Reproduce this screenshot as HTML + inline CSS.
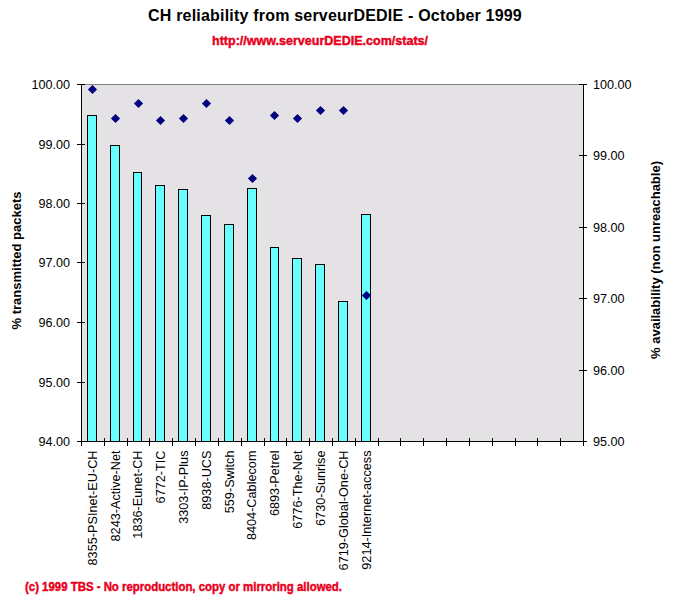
<!DOCTYPE html>
<html><head><meta charset="utf-8"><style>
html,body{margin:0;padding:0;background:#fff;}
body{width:674px;height:596px;position:relative;overflow:hidden;font-family:"Liberation Sans",sans-serif;}
svg{position:absolute;left:0;top:0;}
.n{font-size:12.6px;fill:#000;}
.l{font-size:12.7px;fill:#000;}
.yt{font-size:13px;font-weight:bold;fill:#000;}
.t{font-size:16px;font-weight:bold;fill:#000;letter-spacing:0.2px;}
.s{font-size:13.4px;font-weight:bold;fill:#E8001C;stroke:#E8001C;stroke-width:0.45px;}
.f{font-size:12.5px;font-weight:bold;fill:#E8001C;stroke:#E8001C;stroke-width:0.45px;}
line{shape-rendering:crispEdges;}
rect{shape-rendering:crispEdges;}
</style></head><body>
<svg width="674" height="596" viewBox="0 0 674 596">
<text x="148" y="20.8" class="t">CH reliability from serveurDEDIE - October 1999</text>
<text x="212" y="44.8" class="s" textLength="216" lengthAdjust="spacingAndGlyphs">http://www.serveurDEDIE.com/stats/</text>
<text x="25" y="590.9" class="f" textLength="317" lengthAdjust="spacingAndGlyphs">(c) 1999 TBS - No reproduction, copy or mirroring allowed.</text>
<text transform="translate(21.1,260.5) rotate(-90)" text-anchor="middle" class="yt">% transmitted packets</text>
<text transform="translate(660.2,260) rotate(-90)" text-anchor="middle" class="yt">% availability (non unreachable)</text>
<rect x="82" y="84" width="501" height="357" fill="#E5E2E5"/>
<line x1="81" y1="84.5" x2="583" y2="84.5" stroke="#808080"/>
<rect x="87.5" y="115.5" width="9" height="326" fill="#6AFFFF" stroke="#000"/>
<rect x="110.5" y="145.5" width="9" height="296" fill="#6AFFFF" stroke="#000"/>
<rect x="133.5" y="172.5" width="8" height="269" fill="#6AFFFF" stroke="#000"/>
<rect x="155.5" y="185.5" width="9" height="256" fill="#6AFFFF" stroke="#000"/>
<rect x="178.5" y="189.5" width="9" height="252" fill="#6AFFFF" stroke="#000"/>
<rect x="201.5" y="215.5" width="9" height="226" fill="#6AFFFF" stroke="#000"/>
<rect x="224.5" y="224.5" width="9" height="217" fill="#6AFFFF" stroke="#000"/>
<rect x="247.5" y="188.5" width="9" height="253" fill="#6AFFFF" stroke="#000"/>
<rect x="270.5" y="247.5" width="8" height="194" fill="#6AFFFF" stroke="#000"/>
<rect x="292.5" y="258.5" width="9" height="183" fill="#6AFFFF" stroke="#000"/>
<rect x="315.5" y="264.5" width="9" height="177" fill="#6AFFFF" stroke="#000"/>
<rect x="338.5" y="301.5" width="9" height="140" fill="#6AFFFF" stroke="#000"/>
<rect x="361.5" y="214.5" width="9" height="227" fill="#6AFFFF" stroke="#000"/>
<line x1="81.5" y1="84" x2="81.5" y2="442" stroke="#000"/>
<line x1="583.5" y1="84" x2="583.5" y2="442" stroke="#000"/>
<line x1="81" y1="441.5" x2="584" y2="441.5" stroke="#000"/>
<line x1="77" y1="84.5" x2="85" y2="84.5" stroke="#000"/>
<text x="70" y="89" text-anchor="end" class="n">100.00</text>
<line x1="77" y1="144.5" x2="85" y2="144.5" stroke="#000"/>
<text x="70" y="149" text-anchor="end" class="n">99.00</text>
<line x1="77" y1="203.5" x2="85" y2="203.5" stroke="#000"/>
<text x="70" y="208" text-anchor="end" class="n">98.00</text>
<line x1="77" y1="262.5" x2="85" y2="262.5" stroke="#000"/>
<text x="70" y="267" text-anchor="end" class="n">97.00</text>
<line x1="77" y1="322.5" x2="85" y2="322.5" stroke="#000"/>
<text x="70" y="327" text-anchor="end" class="n">96.00</text>
<line x1="77" y1="382.5" x2="85" y2="382.5" stroke="#000"/>
<text x="70" y="387" text-anchor="end" class="n">95.00</text>
<line x1="77" y1="441.5" x2="85" y2="441.5" stroke="#000"/>
<text x="70" y="446" text-anchor="end" class="n">94.00</text>
<line x1="579" y1="84.5" x2="587" y2="84.5" stroke="#000"/>
<text x="593" y="88.6" class="n">100.00</text>
<line x1="579" y1="155.5" x2="587" y2="155.5" stroke="#000"/>
<text x="593" y="159.6" class="n">99.00</text>
<line x1="579" y1="227.5" x2="587" y2="227.5" stroke="#000"/>
<text x="593" y="231.6" class="n">98.00</text>
<line x1="579" y1="298.5" x2="587" y2="298.5" stroke="#000"/>
<text x="593" y="302.6" class="n">97.00</text>
<line x1="579" y1="370.5" x2="587" y2="370.5" stroke="#000"/>
<text x="593" y="374.6" class="n">96.00</text>
<line x1="579" y1="441.5" x2="587" y2="441.5" stroke="#000"/>
<text x="593" y="445.6" class="n">95.00</text>
<line x1="81.5" y1="441" x2="81.5" y2="446" stroke="#000"/>
<line x1="104.5" y1="438" x2="104.5" y2="446" stroke="#000"/>
<line x1="127.5" y1="438" x2="127.5" y2="446" stroke="#000"/>
<line x1="149.5" y1="438" x2="149.5" y2="446" stroke="#000"/>
<line x1="172.5" y1="438" x2="172.5" y2="446" stroke="#000"/>
<line x1="195.5" y1="438" x2="195.5" y2="446" stroke="#000"/>
<line x1="218.5" y1="438" x2="218.5" y2="446" stroke="#000"/>
<line x1="241.5" y1="438" x2="241.5" y2="446" stroke="#000"/>
<line x1="264.5" y1="438" x2="264.5" y2="446" stroke="#000"/>
<line x1="286.5" y1="438" x2="286.5" y2="446" stroke="#000"/>
<line x1="309.5" y1="438" x2="309.5" y2="446" stroke="#000"/>
<line x1="332.5" y1="438" x2="332.5" y2="446" stroke="#000"/>
<line x1="355.5" y1="438" x2="355.5" y2="446" stroke="#000"/>
<line x1="378.5" y1="438" x2="378.5" y2="446" stroke="#000"/>
<line x1="400.5" y1="438" x2="400.5" y2="446" stroke="#000"/>
<line x1="423.5" y1="438" x2="423.5" y2="446" stroke="#000"/>
<line x1="446.5" y1="438" x2="446.5" y2="446" stroke="#000"/>
<line x1="469.5" y1="438" x2="469.5" y2="446" stroke="#000"/>
<line x1="492.5" y1="438" x2="492.5" y2="446" stroke="#000"/>
<line x1="515.5" y1="438" x2="515.5" y2="446" stroke="#000"/>
<line x1="537.5" y1="438" x2="537.5" y2="446" stroke="#000"/>
<line x1="560.5" y1="438" x2="560.5" y2="446" stroke="#000"/>
<line x1="583.5" y1="441" x2="583.5" y2="446" stroke="#000"/>
<path d="M87.9 89.5L92.5 84.9L97.1 89.5L92.5 94.1Z" fill="#000080"/>
<path d="M110.9 118.5L115.5 113.9L120.1 118.5L115.5 123.1Z" fill="#000080"/>
<path d="M133.9 103.5L138.5 98.9L143.1 103.5L138.5 108.1Z" fill="#000080"/>
<path d="M155.9 120.5L160.5 115.9L165.1 120.5L160.5 125.1Z" fill="#000080"/>
<path d="M178.9 118.5L183.5 113.9L188.1 118.5L183.5 123.1Z" fill="#000080"/>
<path d="M201.9 103.5L206.5 98.9L211.1 103.5L206.5 108.1Z" fill="#000080"/>
<path d="M224.9 120.5L229.5 115.9L234.1 120.5L229.5 125.1Z" fill="#000080"/>
<path d="M247.9 178.5L252.5 173.9L257.1 178.5L252.5 183.1Z" fill="#000080"/>
<path d="M269.9 115.5L274.5 110.9L279.1 115.5L274.5 120.1Z" fill="#000080"/>
<path d="M292.9 118.5L297.5 113.9L302.1 118.5L297.5 123.1Z" fill="#000080"/>
<path d="M315.9 110.5L320.5 105.9L325.1 110.5L320.5 115.1Z" fill="#000080"/>
<path d="M338.9 110.5L343.5 105.9L348.1 110.5L343.5 115.1Z" fill="#000080"/>
<path d="M361.9 295.5L366.5 290.9L371.1 295.5L366.5 300.1Z" fill="#000080"/>
<text transform="translate(96.7,450.5) rotate(-90)" text-anchor="end" class="l">8355-PSInet-EU-CH</text>
<text transform="translate(119.5,450.5) rotate(-90)" text-anchor="end" class="l">8243-Active-Net</text>
<text transform="translate(142.3,450.5) rotate(-90)" text-anchor="end" class="l">1836-Eunet-CH</text>
<text transform="translate(165.2,450.5) rotate(-90)" text-anchor="end" class="l">6772-TIC</text>
<text transform="translate(188.0,450.5) rotate(-90)" text-anchor="end" class="l">3303-IP-Plus</text>
<text transform="translate(210.8,450.5) rotate(-90)" text-anchor="end" class="l">8938-UCS</text>
<text transform="translate(233.6,450.5) rotate(-90)" text-anchor="end" class="l">559-Switch</text>
<text transform="translate(256.4,450.5) rotate(-90)" text-anchor="end" class="l">8404-Cablecom</text>
<text transform="translate(279.3,450.5) rotate(-90)" text-anchor="end" class="l">6893-Petrel</text>
<text transform="translate(302.1,450.5) rotate(-90)" text-anchor="end" class="l">6776-The-Net</text>
<text transform="translate(324.9,450.5) rotate(-90)" text-anchor="end" class="l">6730-Sunrise</text>
<text transform="translate(347.7,450.5) rotate(-90)" text-anchor="end" class="l">6719-Global-One-CH</text>
<text transform="translate(370.5,450.5) rotate(-90)" text-anchor="end" class="l">9214-Internet-access</text>
</svg>
</body></html>
